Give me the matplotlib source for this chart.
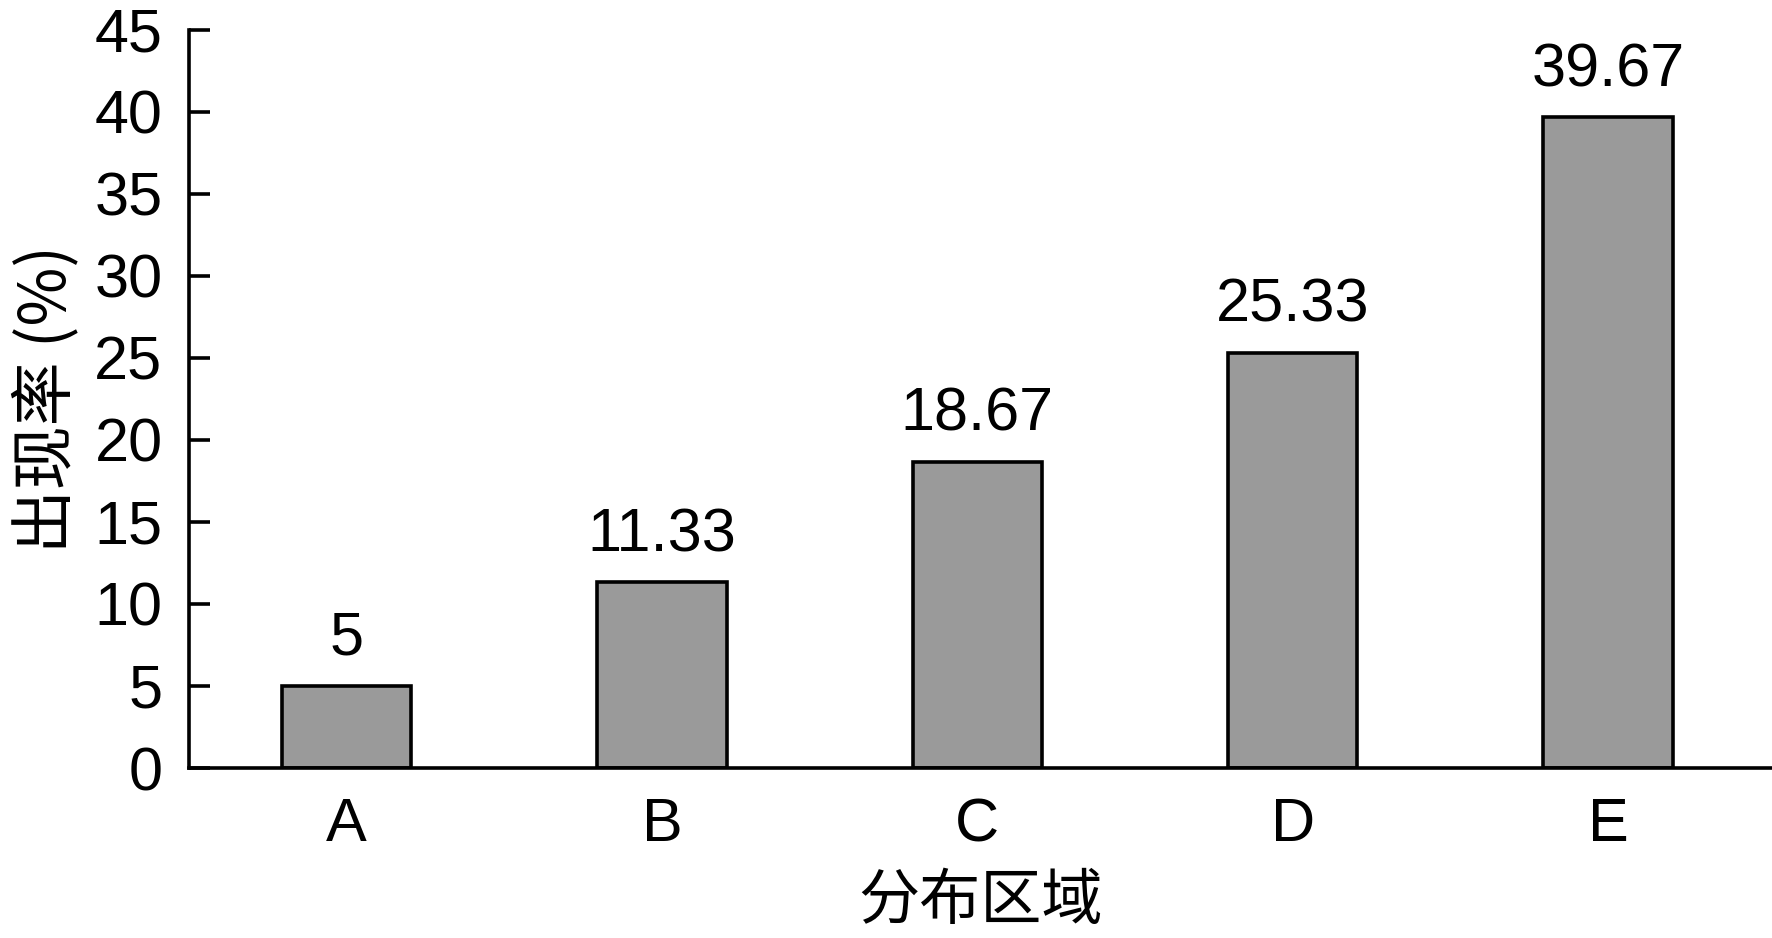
import matplotlib
matplotlib.use("Agg")
from matplotlib import pyplot as plt
import numpy as np

# 数据
regions = ['A', 'B', 'C', 'D', 'E']
rates = [5, 11.33, 18.67, 25.33, 39.67]
rate_labels = ['5', '11.33', '18.67', '25.33', '39.67']
y_ticks = [0, 5, 10, 15, 20, 25, 30, 35, 40, 45]

plt.rcParams['font.family'] = ['Liberation Sans', 'Noto Sans CJK SC', 'DejaVu Sans']

fig = plt.figure(figsize=(17.72, 9.38), dpi=100)
ax = fig.add_axes([189 / 1772, 1 - 768 / 938, 1 - 189 / 1772, (768 - 30) / 938])

x = np.arange(len(regions))
bars = ax.bar(x, rates, width=0.41, color='#9a9a9a', edgecolor='black', linewidth=2.6)

for b, lab in zip(bars, rate_labels):
    ax.text(b.get_x() + b.get_width() / 2, b.get_height() + 1.9, lab,
            ha='center', va='baseline', fontsize=44)

ax.set_xlim(-0.5, 4.52)
ax.set_ylim(0, 45)
ax.set_yticks(y_ticks)
ax.set_xticks(x)
ax.set_xticklabels(regions)

ax.spines['top'].set_visible(False)
ax.spines['right'].set_visible(False)
ax.spines['left'].set_linewidth(2.6)
ax.spines['bottom'].set_linewidth(2.6)

ax.tick_params(axis='y', direction='in', length=15, width=2.6, labelsize=44, pad=19)
ax.tick_params(axis='x', length=0, labelsize=44, pad=21)

cjk = ['Noto Sans CJK SC', 'Liberation Sans']
ax.set_ylabel('出现率 (%)', fontsize=46, family=cjk, fontweight='light', labelpad=10)
ax.set_xlabel('分布区域', fontsize=44, family=cjk, fontweight='light', labelpad=12)

fig.savefig('out.png', dpi=100)
